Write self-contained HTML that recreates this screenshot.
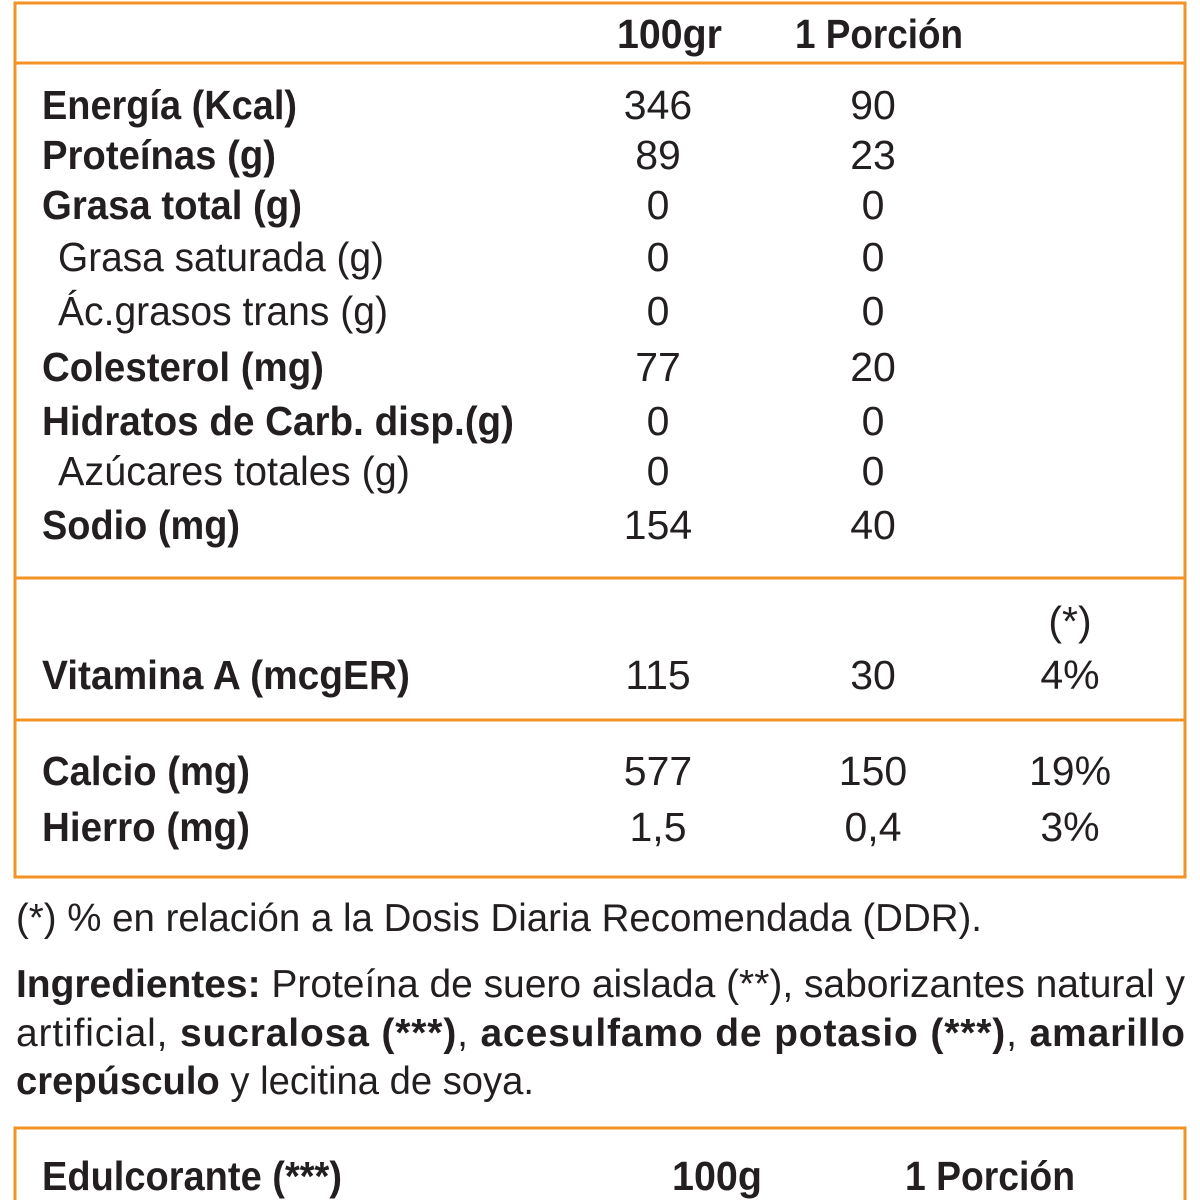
<!DOCTYPE html>
<html><head><meta charset="utf-8"><style>html,body{margin:0;padding:0;background:#fff}svg{display:block}</style></head><body>
<svg width="1200" height="1200" viewBox="0 0 1200 1200" xmlns="http://www.w3.org/2000/svg" font-family="Liberation Sans, sans-serif" fill="#231f20">
<g stroke="#f39323" stroke-width="3" fill="none">
<rect x="15" y="3" width="1170" height="874"/>
<line x1="15" y1="63" x2="1185" y2="63"/>
<line x1="15" y1="578" x2="1185" y2="578"/>
<line x1="15" y1="720" x2="1185" y2="720"/>
<rect x="15" y="1128" width="1170" height="80"/>
</g>
<g font-size="41" font-weight="bold">
<text x="617" y="48" textLength="105" lengthAdjust="spacingAndGlyphs">100gr</text>
<text x="795" y="48" textLength="168" lengthAdjust="spacingAndGlyphs">1 Porción</text>
<text x="42" y="119" textLength="255" lengthAdjust="spacingAndGlyphs">Energía (Kcal)</text>
<text x="42" y="169" textLength="234" lengthAdjust="spacingAndGlyphs">Proteínas (g)</text>
<text x="42" y="219" textLength="260" lengthAdjust="spacingAndGlyphs">Grasa total (g)</text>
<text x="42" y="381" textLength="282" lengthAdjust="spacingAndGlyphs">Colesterol (mg)</text>
<text x="42" y="435" textLength="472" lengthAdjust="spacingAndGlyphs">Hidratos de Carb. disp.(g)</text>
<text x="42" y="539" textLength="198" lengthAdjust="spacingAndGlyphs">Sodio (mg)</text>
<text x="42" y="689" textLength="368" lengthAdjust="spacingAndGlyphs">Vitamina A (mcgER)</text>
<text x="42" y="785" textLength="208" lengthAdjust="spacingAndGlyphs">Calcio (mg)</text>
<text x="42" y="841" textLength="208" lengthAdjust="spacingAndGlyphs">Hierro (mg)</text>
<text x="42" y="1190" textLength="300" lengthAdjust="spacingAndGlyphs">Edulcorante (***)</text>
<text x="672" y="1190" textLength="90" lengthAdjust="spacingAndGlyphs">100g</text>
<text x="905" y="1190" textLength="170" lengthAdjust="spacingAndGlyphs">1 Porción</text>
</g>
<g font-size="41">
<text x="58" y="271" textLength="326" lengthAdjust="spacingAndGlyphs">Grasa saturada (g)</text>
<text x="58" y="325" textLength="330" lengthAdjust="spacingAndGlyphs">Ác.grasos trans (g)</text>
<text x="58" y="485" textLength="352" lengthAdjust="spacingAndGlyphs">Azúcares totales (g)</text>
</g>
<g font-size="41" text-anchor="middle">
<text x="658" y="119">346</text><text x="873" y="119">90</text>
<text x="658" y="169">89</text><text x="873" y="169">23</text>
<text x="658" y="219">0</text><text x="873" y="219">0</text>
<text x="658" y="271">0</text><text x="873" y="271">0</text>
<text x="658" y="325">0</text><text x="873" y="325">0</text>
<text x="658" y="381">77</text><text x="873" y="381">20</text>
<text x="658" y="435">0</text><text x="873" y="435">0</text>
<text x="658" y="485">0</text><text x="873" y="485">0</text>
<text x="658" y="539">154</text><text x="873" y="539">40</text>
<text x="1070" y="635">(*)</text>
<text x="658" y="689">115</text><text x="873" y="689">30</text><text x="1070" y="689">4%</text>
<text x="658" y="785">577</text><text x="873" y="785">150</text><text x="1070" y="785">19%</text>
<text x="658" y="841">1,5</text><text x="873" y="841">0,4</text><text x="1070" y="841">3%</text>
</g>
<g font-size="39">
<text x="16" y="931" textLength="966" lengthAdjust="spacingAndGlyphs">(*) % en relación a la Dosis Diaria Recomendada (DDR).</text>
<text x="16" y="997" textLength="1169" lengthAdjust="spacing"><tspan font-weight="bold">Ingredientes:</tspan>  Proteína de suero aislada (**), saborizantes natural y</text>
<text x="16" y="1046" textLength="1169" lengthAdjust="spacing">artificial, <tspan font-weight="bold">sucralosa (***)</tspan>, <tspan font-weight="bold">acesulfamo de potasio (***)</tspan>, <tspan font-weight="bold">amarillo</tspan></text>
<text x="16" y="1094" textLength="518" lengthAdjust="spacingAndGlyphs"><tspan font-weight="bold">crepúsculo</tspan> y lecitina de soya.</text>
</g>
</svg>
</body></html>
